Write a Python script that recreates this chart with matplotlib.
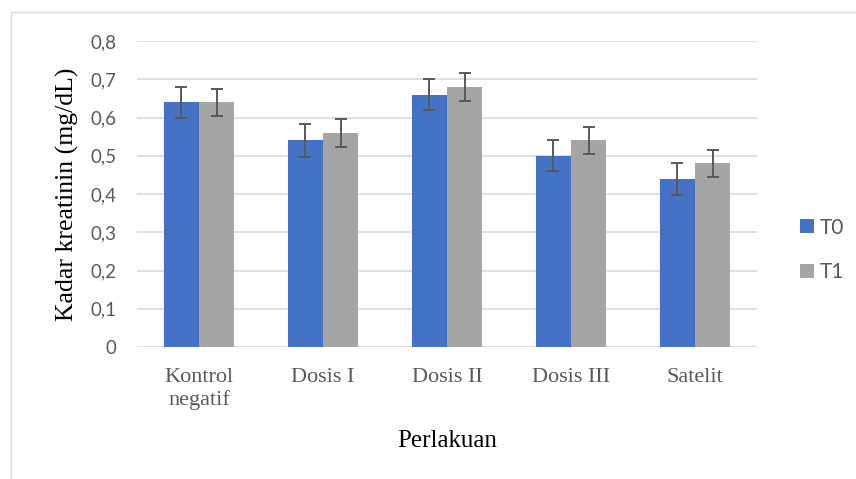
import numpy as np
import matplotlib.pyplot as plt
from matplotlib.patches import Rectangle

categories = ['Kontrol\nnegatif', 'Dosis I', 'Dosis II', 'Dosis III', 'Satelit']
t0 = [0.64, 0.54, 0.66, 0.50, 0.44]
t1 = [0.64, 0.56, 0.68, 0.54, 0.48]
t0_err = [0.041, 0.042, 0.041, 0.041, 0.042]
t1_err = [0.035, 0.036, 0.036, 0.035, 0.035]
yticks = [0, 0.1, 0.2, 0.3, 0.4, 0.5, 0.6, 0.7, 0.8]
ytick_labels = ['0', '0,1', '0,2', '0,3', '0,4', '0,5', '0,6', '0,7', '0,8']

fig = plt.figure(figsize=(8.56, 4.79), dpi=100)
# chart border
fig.patches.append(Rectangle((11 / 856, -0.1), 1.2, 1 - 12 / 479 + 0.1,
                             transform=fig.transFigure, fill=False,
                             edgecolor='#d9d9d9', linewidth=1.0))
ax = fig.add_axes([137 / 856, 1 - 347 / 479, 620 / 856, 306 / 479])

x = np.arange(len(categories))
w = 0.286
err_kw = dict(ecolor='#595959', elinewidth=1.4, capsize=4.5, capthick=1.4)
ax.bar(x - w / 2, t0, w, color='#4472c4', label='T0', yerr=t0_err,
       error_kw=err_kw, zorder=3)
ax.bar(x + w / 2, t1, w, color='#a5a5a5', label='T1', yerr=t1_err,
       error_kw=err_kw, zorder=3)

ax.set_xlim(-0.5, len(categories) - 0.5)
ax.set_ylim(0, 0.8)
ax.set_yticks(yticks)
ax.set_yticklabels(ytick_labels, fontfamily='Lato', fontsize=13.5, color='#595959')
ax.set_xticks(x)
ax.set_xticklabels(categories, fontfamily='Liberation Serif', fontsize=16,
                   color='#595959', linespacing=1.25)
ax.tick_params(length=0)
ax.tick_params(axis='y', pad=15)
ax.tick_params(axis='x', pad=15)
ax.grid(axis='y', color='#d9d9d9', linewidth=1.2, zorder=0)
for s in ax.spines.values():
    s.set_visible(False)

ax.set_ylabel('Kadar kreatinin (mg/dL)', fontfamily='Liberation Serif',
              fontsize=18.5, color='black', labelpad=8)
ax.set_xlabel('Perlakuan', fontfamily='Liberation Serif', fontsize=18,
              color='black', labelpad=14)

leg = fig.legend(loc='center left', bbox_to_anchor=(800 / 856, 1 - 250 / 479),
                 frameon=False, prop={'family': 'Lato', 'size': 15},
                 handlelength=0.65, handleheight=0.65, labelspacing=1.2,
                 handletextpad=0.3, borderpad=0, borderaxespad=0)
for t in leg.get_texts():
    t.set_color('#595959')

fig.savefig('out.png', dpi=100)
